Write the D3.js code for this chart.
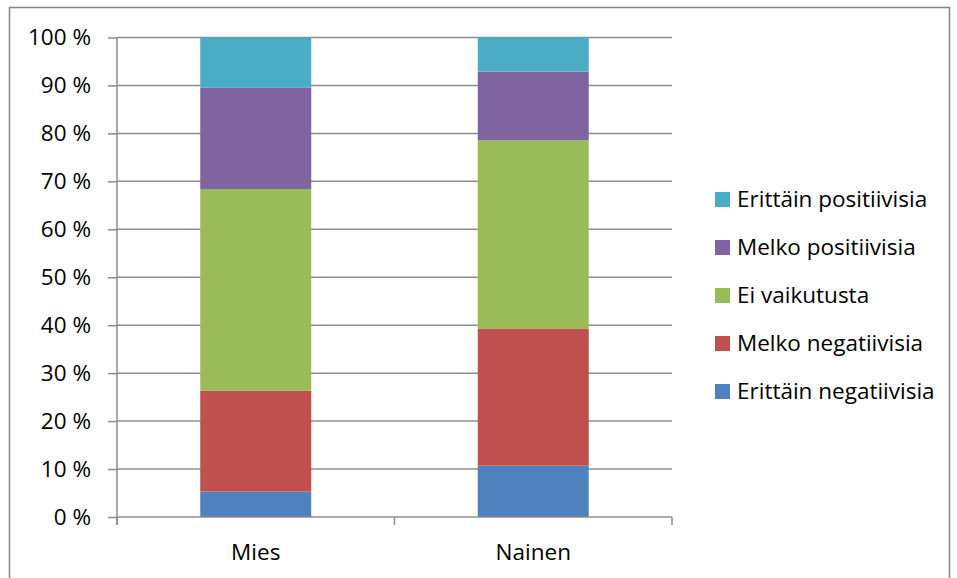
<!DOCTYPE html>
<html>
<head>
<meta charset="utf-8">
<script src="https://cdn.jsdelivr.net/npm/d3@7"></script>
<style>
  html, body { margin: 0; padding: 0; background: #fff; }
  svg { display: block; }
  text { font-family: "Open Sans", "Liberation Sans", sans-serif; fill: #000; }
</style>
</head>
<body>
<svg id="chart" width="957" height="578"></svg>
<script>
// Categories on the x axis
const categories = ["Mies", "Nainen"];

// Series, listed bottom to top of each stacked bar (percent)
const seriesNames = [
  "Erittäin negatiivisia",
  "Melko negatiivisia",
  "Ei vaikutusta",
  "Melko positiivisia",
  "Erittäin positiivisia"
];
const erittainNegatiivisia = [5.3, 10.7];
const melkoNegatiivisia    = [21.0, 28.5];
const eiVaikutusta         = [42.1, 39.4];
const melkoPositiivisia    = [21.1, 14.3];
const erittainPositiivisia = [10.5, 7.1];
const seriesValues = [erittainNegatiivisia, melkoNegatiivisia, eiVaikutusta, melkoPositiivisia, erittainPositiivisia];
const seriesColors = ["#4F81BD", "#C0504D", "#9BBB59", "#8064A2", "#4BACC6"];

// Y axis ticks
const yTicks = [0, 10, 20, 30, 40, 50, 60, 70, 80, 90, 100];
const yTickLabels = yTicks.map(v => v + " %");

const FONT_SIZE = "22.5px";
const svg = d3.select("#chart");

// Chart frame
svg.append("rect")
  .attr("x", 9.5).attr("y", 7.5)
  .attr("width", 940).attr("height", 600)
  .attr("fill", "none").attr("stroke", "#868686").attr("stroke-width", 1.5);

const plot = { left: 117, right: 672, top: 37.5, bottom: 517 };

const x = d3.scaleBand().domain(categories).range([plot.left, plot.right]).padding(0);
const y = d3.scaleLinear().domain([0, 100]).range([plot.bottom, plot.top]);

// Horizontal gridlines
svg.append("g")
  .selectAll("line")
  .data(yTicks.filter(t => t > 0))
  .join("line")
  .attr("x1", plot.left).attr("x2", plot.right)
  .attr("y1", d => y(d)).attr("y2", d => y(d))
  .attr("stroke", "#8c8c8c").attr("stroke-width", 1.5);

// Stacked bars
const rows = categories.map((c, i) => {
  const r = { category: c };
  seriesNames.forEach((s, j) => { r[s] = seriesValues[j][i]; });
  return r;
});
const stacked = d3.stack().keys(seriesNames)(rows);
const barW = x.bandwidth() * 0.4;

svg.append("g")
  .selectAll("g")
  .data(stacked)
  .join("g")
  .attr("fill", (d, i) => seriesColors[i])
  .selectAll("rect")
  .data(d => d)
  .join("rect")
  .attr("x", d => x(d.data.category) + (x.bandwidth() - barW) / 2)
  .attr("width", barW)
  .attr("y", d => y(d[1]))
  .attr("height", d => y(d[0]) - y(d[1]));

// Y axis
const yAxis = d3.axisLeft(y)
  .tickValues(yTicks)
  .tickFormat((d, i) => yTickLabels[i])
  .tickSize(9)
  .tickPadding(17);
const gy = svg.append("g").attr("transform", `translate(${plot.left},0)`).call(yAxis);
gy.select(".domain").attr("stroke", "#8c8c8c").attr("stroke-width", 1.5)
  .attr("d", `M0,${plot.top}V${plot.bottom + 8}`);
gy.selectAll(".tick line").attr("stroke", "#8c8c8c").attr("stroke-width", 1.5);
gy.selectAll(".tick text")
  .style("font-family", "'Open Sans', sans-serif")
  .style("font-size", FONT_SIZE).attr("fill", "#000");

// X axis
const xAxis = d3.axisBottom(x).tickSize(0).tickPadding(27);
const gx = svg.append("g").attr("transform", `translate(0,${plot.bottom})`).call(xAxis);
gx.select(".domain").attr("stroke", "#8c8c8c").attr("stroke-width", 1.5)
  .attr("d", `M${plot.left},0H${plot.right}`);
gx.selectAll(".tick text")
  .style("font-family", "'Open Sans', sans-serif")
  .style("font-size", FONT_SIZE).attr("fill", "#000");
// Category separators
const sepX = [plot.left, ...categories.map(c => x(c) + x.bandwidth())];
gx.selectAll("line.sep")
  .data(sepX)
  .join("line")
  .attr("class", "sep")
  .attr("x1", d => d).attr("x2", d => d)
  .attr("y1", 0).attr("y2", 8)
  .attr("stroke", "#8c8c8c").attr("stroke-width", 1.5);

// Legend, top entry is the top series
const legendOrder = seriesNames.map((s, i) => i).reverse();
const legend = svg.append("g");
const lg = legend.selectAll("g")
  .data(legendOrder)
  .join("g")
  .attr("transform", (d, k) => `translate(715,${199.5 + k * 48})`);
lg.append("rect")
  .attr("x", 0).attr("y", -7.5).attr("width", 15).attr("height", 15)
  .attr("fill", d => seriesColors[d]);
lg.append("text")
  .attr("x", 22).attr("y", 0).attr("dy", "0.35em")
  .style("font-size", FONT_SIZE)
  .text(d => seriesNames[d]);
</script>
</body>
</html>
